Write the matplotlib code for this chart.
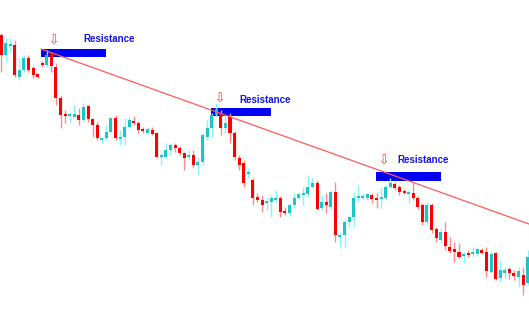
import matplotlib
matplotlib.use("Agg")
import matplotlib.pyplot as plt
from matplotlib.patches import Rectangle

# OHLC values (arbitrary price units)
opens = [285, 265, 274, 275, 243, 250, 262, 252, 246, 257, 255, 267, 253, 222, 206, 204, 203, 205, 200, 214,
         201, 195, 180, 182, 188, 202, 181, 183, 193, 199, 197, 191, 187, 190, 187, 163, 163, 170, 175, 172,
         167, 163, 165, 155, 158, 183, 192, 205, 207, 192, 203, 187, 162, 157, 146, 140, 123, 120, 117, 118,
         120, 122, 109, 107, 115, 122, 125, 126, 133, 137, 112, 118, 113, 128, 83, 85, 98, 103, 122, 122,
         122, 125, 122, 121, 122, 133, 136, 133, 129, 126, 127, 122, 115, 98, 115, 91, 80, 88, 73, 71,
         68, 64, 66, 66, 66, 70, 68, 48, 67, 42, 47, 51, 47, 43, 45, 37]
highs = [287, 282, 282, 280, 262, 265, 265, 254, 247, 259, 270, 268, 257, 225, 210, 208, 215, 212, 217, 215,
         202, 198, 183, 195, 203, 205, 190, 202, 203, 204, 199, 193, 193, 193, 188, 168, 177, 177, 177, 174,
         168, 170, 170, 163, 187, 200, 207, 217, 210, 203, 207, 189, 165, 160, 152, 142, 127, 125, 123, 125,
         130, 124, 113, 117, 127, 127, 133, 145, 142, 140, 125, 127, 130, 138, 88, 100, 105, 128, 135, 127,
         127, 127, 127, 132, 135, 142, 138, 135, 131, 130, 137, 124, 117, 117, 117, 93, 92, 98, 83, 78,
         77, 68, 70, 73, 72, 72, 73, 68, 68, 60, 53, 53, 50, 53, 53, 70]
lows = [248, 258, 268, 243, 240, 248, 248, 242, 242, 253, 253, 248, 215, 192, 197, 198, 203, 195, 198, 198,
        183, 180, 177, 180, 187, 180, 175, 175, 192, 195, 187, 187, 186, 185, 162, 155, 162, 165, 168, 165,
        150, 160, 152, 145, 155, 180, 183, 203, 185, 187, 177, 160, 150, 133, 142, 115, 118, 108, 110, 103,
        117, 103, 105, 104, 112, 121, 115, 123, 132, 110, 110, 107, 110, 78, 72, 73, 93, 93, 118, 120,
        120, 117, 112, 112, 120, 132, 130, 125, 126, 117, 120, 111, 95, 96, 87, 78, 77, 70, 67, 58,
        62, 57, 63, 63, 64, 66, 43, 47, 40, 38, 42, 41, 40, 33, 25, 35]
closes = [265, 277, 276, 245, 250, 262, 250, 245, 243, 255, 265, 254, 222, 205, 204, 206, 206, 200, 213, 201,
          195, 182, 182, 188, 202, 182, 183, 193, 200, 197, 190, 189, 191, 186, 163, 165, 170, 175, 172, 167,
          162, 165, 155, 158, 185, 192, 205, 211, 192, 197, 187, 163, 155, 137, 148, 122, 120, 115, 118, 122,
          122, 108, 107, 115, 122, 126, 127, 133, 137, 111, 118, 115, 128, 85, 85, 98, 103, 122, 123, 124,
          126, 121, 120, 123, 133, 137, 132, 128, 127, 128, 122, 113, 98, 115, 90, 82, 88, 74, 69, 68,
          63, 66, 65, 67, 71, 67, 49, 66, 41, 50, 50, 47, 44, 49, 35, 63]

labels = ["Resistance", "Resistance", "Resistance"]

W, H = 529, 313
fig = plt.figure(figsize=(W / 100, H / 100), dpi=100)
ax = fig.add_axes([0, 0, 1, 1])
ax.axis("off")

step = 4.58
n = len(opens)
ax.set_xlim(-1 / step, (W - 1) / step)
ax.set_ylim(320 - H, 320)

RED, RED_W = "#ff0000", "#ff8a8a"
CYAN, CYAN_W = "#1cc6c6", "#86f4ff"

xs = list(range(n))
for i in xs:
    o, h, l, c = opens[i], highs[i], lows[i], closes[i]
    up = c >= o
    bc = CYAN if up else RED
    wc = CYAN_W if up else RED_W
    ax.vlines(i, l, h, color=wc, linewidth=1.0, zorder=3)
    bot = min(o, c)
    ht = max(abs(c - o), 1.8)
    ax.bar(i, ht, bottom=bot, width=0.66, color=bc, linewidth=0, zorder=4)

# helper: pixel -> data
def px(x, y):
    return (x - 1) / step, 320 - y

# resistance boxes (pixel positions)
boxes = [(41, 49, 106, 57), (211, 108, 271, 116), (376, 172, 441, 181)]
for (x0, y0, x1, y1) in boxes:
    a0, b0 = px(x0, y1)
    a1, b1 = px(x1, y0)
    ax.add_patch(Rectangle((a0, b0), a1 - a0, b1 - b0, facecolor="#0000f5",
                           edgecolor="none", zorder=2))

# trend line
p0 = px(41, 49)
p1 = px(529, 224)
ax.plot([p0[0], p1[0]], [p0[1], p1[1]], color="#ff5a5a", linewidth=0.9, zorder=5)

# arrows and labels
arrows = [(54, 41), (220, 99), (384, 161)]
texts = [(83, 39), (239, 100), (397, 160)]
for (axp, ayp), (tx, ty), lab in zip(arrows, texts, labels):
    a = px(axp, ayp)
    ax.text(a[0], a[1], "\u21e9", color="#ff3030", fontsize=9, ha="center", va="center",
            family="DejaVu Sans", zorder=6)
    t = px(tx, ty)
    ax.text(t[0], t[1], lab, color="#1414e6", fontsize=7, fontweight="bold", ha="left",
            va="center", family="Liberation Sans", zorder=6)

fig.savefig("out.png", dpi=100, facecolor="white")
